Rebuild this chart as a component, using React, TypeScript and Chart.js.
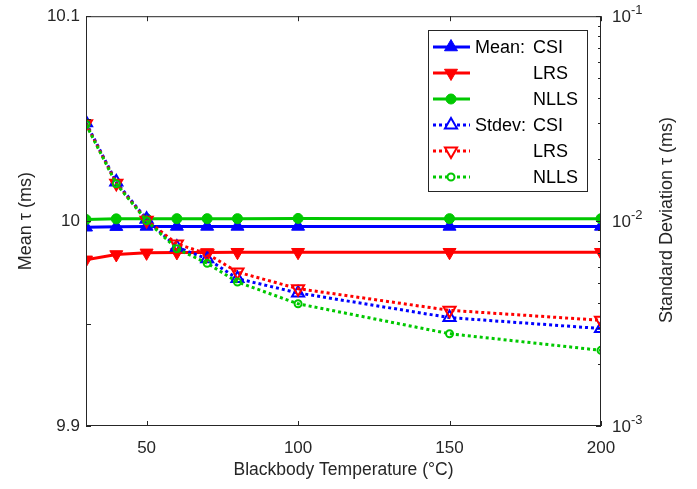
import React, { useEffect, useRef } from "react";
import { Chart, registerables } from "chart.js";

Chart.register(...registerables);

const temperatures = [30, 40, 50, 60, 70, 80, 100, 150, 200];

const meanCSI = [9.997, 9.9973, 9.9974, 9.9974, 9.9974, 9.9974, 9.9974, 9.9974, 9.9974];
const meanLRS = [9.9811, 9.9837, 9.9845, 9.9847, 9.9847, 9.9848, 9.9848, 9.9848, 9.9848];
const meanNLLS = [10.0008, 10.0011, 10.0012, 10.0012, 10.0012, 10.0012, 10.0013, 10.0012, 10.0012];

const stdevCSI = [0.0302, 0.0155, 0.0102, 0.00746, 0.00655, 0.00524, 0.00446, 0.00338, 0.00299];
const stdevLRS = [0.0299, 0.0153, 0.0101, 0.00774, 0.00692, 0.00564, 0.00468, 0.00367, 0.00328];
const stdevNLLS = [0.0296, 0.0152, 0.01005, 0.00732, 0.00623, 0.00504, 0.00395, 0.00282, 0.00234];

const xTicks = [50, 100, 150, 200];
const leftTicks = [9.9, 9.95, 10, 10.05, 10.1];
const leftTickLabels = ["9.9", "", "10", "", "10.1"];
const rightMajorExp = [-3, -2, -1];

const legendPrefixes = ["Mean:", "", "", "Stdev:", "", ""];
const legendNames = ["CSI", "LRS", "NLLS", "CSI", "LRS", "NLLS"];

const BLUE = "#0000ff";
const RED = "#ff0000";
const GREEN = "#00c800";
const AXIS = "#262626";
const FONT = "'Liberation Sans', Arial, Helvetica, sans-serif";

const pts = (vals: number[]) => temperatures.map((t, i) => ({ x: t, y: vals[i] }));

const frameAndLegend = {
  id: "frameAndLegend",
  afterDraw(chart: any) {
    const ctx = chart.ctx as CanvasRenderingContext2D;
    const { left, right, top, bottom } = chart.chartArea;
    const xs = chart.scales.x;
    const yl = chart.scales.y;
    const yr = chart.scales.y1;
    ctx.save();
    ctx.strokeStyle = AXIS;
    ctx.lineWidth = 1;
    ctx.strokeRect(left + 0.5, top + 0.5, right - left - 1, bottom - top - 1);
    ctx.beginPath();
    xTicks.forEach((v) => {
      const px = Math.round(xs.getPixelForValue(v)) + 0.5;
      ctx.moveTo(px, bottom);
      ctx.lineTo(px, bottom - 5);
      ctx.moveTo(px, top);
      ctx.lineTo(px, top + 5);
    });
    leftTicks.forEach((v) => {
      const py = Math.round(yl.getPixelForValue(v)) + 0.5;
      ctx.moveTo(left, py);
      ctx.lineTo(left + 5, py);
    });
    for (let e = -3; e <= -1; e++) {
      for (let m = 1; m <= 9; m++) {
        if (e === -1 && m > 1) break;
        const v = m * Math.pow(10, e);
        const py = Math.round(yr.getPixelForValue(v)) + 0.5;
        const len = m === 1 ? 5 : 3;
        ctx.moveTo(right, py);
        ctx.lineTo(right - len, py);
      }
    }
    ctx.stroke();

    ctx.fillStyle = AXIS;
    ctx.textAlign = "left";
    ctx.textBaseline = "middle";
    rightMajorExp.forEach((e) => {
      const py = yr.getPixelForValue(Math.pow(10, e));
      const x0 = right + 11;
      ctx.font = `17px ${FONT}`;
      ctx.fillText("10", x0, py + 1);
      const w = ctx.measureText("10").width;
      ctx.font = `13px ${FONT}`;
      ctx.fillText(String(e), x0 + w, py - 6);
    });

    ctx.save();
    ctx.translate(667, 220);
    ctx.rotate(-Math.PI / 2);
    ctx.textAlign = "center";
    ctx.textBaseline = "middle";
    ctx.font = `18px ${FONT}`;
    ctx.fillText("Standard Deviation τ (ms)", 0, 0);
    ctx.restore();

    const bx = 428, by = 30, bw = 159, bh = 161;
    ctx.fillStyle = "#ffffff";
    ctx.fillRect(bx, by, bw, bh);
    ctx.strokeStyle = AXIS;
    ctx.lineWidth = 1;
    ctx.strokeRect(bx + 0.5, by + 0.5, bw, bh);
    const rowH = 26;
    chart.data.datasets.forEach((ds: any, i: number) => {
      const cy = by + 17 + i * rowH;
      ctx.save();
      ctx.strokeStyle = ds.borderColor;
      ctx.lineWidth = ds.borderWidth;
      ctx.setLineDash(ds.borderDash || []);
      ctx.beginPath();
      ctx.moveTo(433, cy);
      ctx.lineTo(470, cy);
      ctx.stroke();
      ctx.setLineDash([]);
      ctx.restore();
      ctx.save();
      ctx.fillStyle = ds.pointBackgroundColor === "transparent" ? "#ffffff" : ds.pointBackgroundColor;
      ctx.strokeStyle = ds.borderColor;
      ctx.lineWidth = ds.pointBorderWidth;
      const style = ds.pointStyle;
      const r = ds.pointRadius;
      const rot = ((ds.pointRotation || 0) * Math.PI) / 180;
      ctx.beginPath();
      if (style === "circle") {
        ctx.arc(451, cy, r, 0, Math.PI * 2);
      } else {
        let a = rot;
        ctx.moveTo(451 + Math.sin(a) * r, cy - Math.cos(a) * r);
        a += (2 * Math.PI) / 3;
        ctx.lineTo(451 + Math.sin(a) * r, cy - Math.cos(a) * r);
        a += (2 * Math.PI) / 3;
        ctx.lineTo(451 + Math.sin(a) * r, cy - Math.cos(a) * r);
        ctx.closePath();
      }
      ctx.fill();
      ctx.stroke();
      ctx.restore();
      ctx.fillStyle = "#000000";
      ctx.font = `18px ${FONT}`;
      ctx.textAlign = "left";
      ctx.textBaseline = "middle";
      if (legendPrefixes[i]) ctx.fillText(legendPrefixes[i], 475, cy + 1);
      ctx.fillText(legendNames[i], 533, cy + 1);
    });
    ctx.restore();
  },
};

export default function App() {
  const ref = useRef<HTMLCanvasElement | null>(null);
  useEffect(() => {
    if (!ref.current) return;
    const mk = (
      label: string,
      vals: number[],
      color: string,
      axis: string,
      style: string,
      rotation: number,
      radius: number,
      dashed: boolean,
      filled: boolean,
      order: number
    ) => ({
      label,
      data: pts(vals),
      yAxisID: axis,
      borderColor: color,
      backgroundColor: color,
      borderWidth: 3,
      borderDash: dashed ? [3, 3] : [],
      pointStyle: style,
      pointRotation: rotation,
      pointRadius: radius,
      pointHoverRadius: radius,
      pointBackgroundColor: filled ? color : "transparent",
      pointBorderColor: color,
      pointBorderWidth: filled ? 1 : 2,
      tension: 0,
      clip: 0,
      order,
    });
    const chart = new Chart(ref.current, {
      type: "line",
      data: {
        datasets: [
          mk("Mean: CSI", meanCSI, BLUE, "y", "triangle", 0, 7.5, false, true, 6),
          mk("Mean: LRS", meanLRS, RED, "y", "triangle", 180, 7.5, false, true, 5),
          mk("Mean: NLLS", meanNLLS, GREEN, "y", "circle", 0, 5, false, true, 4),
          mk("Stdev: CSI", stdevCSI, BLUE, "y1", "triangle", 0, 7, true, false, 3),
          mk("Stdev: LRS", stdevLRS, RED, "y1", "triangle", 180, 7, true, false, 2),
          mk("Stdev: NLLS", stdevNLLS, GREEN, "y1", "circle", 0, 3.5, true, false, 1),
        ] as any,
      },
      options: {
        responsive: false,
        animation: false,
        events: [],
        layout: { padding: { top: 15, right: 0, left: 0, bottom: 0 } },
        plugins: { legend: { display: false }, tooltip: { enabled: false } },
        scales: {
          x: {
            type: "linear",
            min: 30,
            max: 200,
            afterBuildTicks: (s: any) => {
              s.ticks = xTicks.map((v) => ({ value: v }));
            },
            afterFit: (s: any) => {
              s.height = 63;
            },
            grid: { display: false, drawTicks: false },
            border: { display: false },
            ticks: {
              padding: 12,
              color: AXIS,
              font: { family: FONT, size: 17 },
              maxRotation: 0,
              callback: (v: any) => String(v),
            },
            title: {
              display: true,
              text: "Blackbody Temperature (°C)",
              color: AXIS,
              font: { family: FONT, size: 17.5 },
              padding: { top: 0, bottom: 8 },
            },
          },
          y: {
            type: "linear",
            position: "left",
            min: 9.9,
            max: 10.1,
            afterBuildTicks: (s: any) => {
              s.ticks = leftTicks.map((v) => ({ value: v }));
            },
            afterFit: (s: any) => {
              s.width = 86;
            },
            grid: { display: false, drawTicks: false },
            border: { display: false },
            ticks: {
              padding: 6,
              color: AXIS,
              font: { family: FONT, size: 17 },
              callback: (v: any) => {
                const idx = leftTicks.findIndex((t) => Math.abs(t - Number(v)) < 1e-6);
                return idx >= 0 ? leftTickLabels[idx] : "";
              },
            },
            title: {
              display: true,
              text: "Mean τ (ms)",
              color: AXIS,
              font: { family: FONT, size: 18 },
              padding: { top: 15, bottom: 0 },
            },
          },
          y1: {
            type: "logarithmic",
            position: "right",
            min: 0.001,
            max: 0.1,
            afterFit: (s: any) => {
              s.width = 96;
            },
            grid: { display: false, drawTicks: false },
            border: { display: false },
            ticks: { display: false },
          },
        },
      },
      plugins: [frameAndLegend],
    } as any);
    return () => chart.destroy();
  }, []);
  return (
    <div style={{ position: "fixed", left: 0, top: 0, width: 697, height: 489, background: "#fff" }}>
      <canvas ref={ref} width={697} height={489} style={{ width: 697, height: 489, display: "block" }} />
    </div>
  );
}
